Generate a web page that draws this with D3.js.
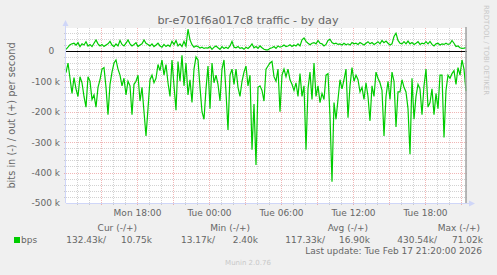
<!DOCTYPE html>
<html>
<head>
<meta charset="utf-8">
<script src="https://cdn.jsdelivr.net/npm/d3@7"></script>
<style>
  body { margin: 0; background: #f0f0f0; }
  svg { display: block; font-family: "DejaVu Sans", sans-serif; }
  text { fill: #666; }
</style>
</head>
<body>
<div id="chart"></div>
<script>
// Munin style "by day" traffic graph, 5 min steps read at 10 min resolution

const W = 497, H = 275;
const plot = {left: 66, right: 466, top: 28, bottom: 203};

const title = "br-e701f6a017c8 traffic - by day";
const yTitle = "bits in (-) / out (+) per second";
const startTime = Date.UTC(2026, 1, 16, 12, 5);
const endTime = Date.UTC(2026, 1, 17, 21, 25);
const stepMinutes = 10;

// values in k bits/s, "in" is drawn below zero
const bpsIn = [
  72, 40, 90, 140, 88, 125, 150, 85, 105, 150, 185, 85, 100, 160, 145, 185, 120,
  95, 60, 55, 120, 210, 110, 70, 40, 30, 60, 80, 115, 90, 145, 100, 115, 210, 110, 100, 80,
  165, 120, 200, 280, 190, 95, 80, 105, 90, 45, 65, 30, 80, 45, 105,
  150, 30, 115, 195, 35, 100, 15, 115, 40, 145, 95, 170, 60, 20, 30, 120, 200, 225, 125, 50,
  190, 40, 105, 80, 110, 165, 60, 30, 135, 260, 80, 60, 110, 60, 120, 150, 100, 70, 50, 115,
  80, 325, 175, 375, 120, 115, 130, 165, 60, 50,
  40, 35, 85, 100, 60, 200, 80, 60, 85, 60, 95, 110, 130, 105, 150, 75, 150, 115, 325, 125,
  70, 160, 40, 150, 115, 170, 140, 160, 80, 75, 215, 430, 170, 225, 160, 95, 125, 95, 60, 220,
  115, 55, 100, 80, 95, 135, 120, 160, 105, 150, 230, 115, 150, 70, 90,
  105, 130, 280, 150, 100, 160, 70, 100, 250, 135, 135, 95, 120, 135, 190, 340, 90, 225, 150, 110,
  125, 210, 115, 60, 185, 170, 125, 210, 140, 190, 80, 80, 285, 130, 80, 90, 75, 65, 110, 55,
  80, 30, 60, 132.43
];
const bpsOut = [
  5, 12, 20, 23, 25, 19, 27, 14, 23, 19, 30,
  16, 21, 14, 25, 36, 23, 16, 21, 14, 19,
  23, 31, 19, 14, 23, 16, 34, 21, 16, 25,
  36, 23, 16, 21, 27, 14, 19, 23, 36, 25,
  21, 16, 23, 14, 19, 25, 16, 12, 21, 14,
  19, 14, 31, 21, 34, 16, 23, 14, 31, 16,
  71, 36, 20, 12, 16, 14, 9, 12, 8, 10,
  9, 14, 5, 12, 16, 10, 5, 14, 8, 12,
  8, 16, 31, 12, 10, 14, 8, 10, 5, 12,
  8, 14, 23, 10, 14, 8, 16, 10, 5, 3,
  3, 8, 10, 14, 8, 16, 12, 14, 19, 14,
  16, 20, 14, 19, 16, 23, 16, 36, 42, 31,
  25, 20, 25, 27, 23, 34, 25, 23, 16, 21,
  34, 38, 27, 23, 25, 21, 23, 19, 25, 20,
  23, 19, 27, 23, 25, 21, 27, 23, 19, 25,
  30, 23, 27, 21, 25, 30, 23, 34, 27, 32,
  25, 19, 23, 47, 58, 34, 25, 23, 30, 23,
  32, 23, 27, 21, 25, 30, 21, 25, 23, 30,
  23, 31, 21, 16, 23, 25, 19, 23, 21, 25,
  21, 23, 34, 25, 14, 16, 10, 8, 9, 10.75
];

const yDomain = [-500, 75];
const yLabelTicks = [-500, -400, -300, -200, -100, 0];
const xLabelTicks = [
  Date.UTC(2026, 1, 16, 18), Date.UTC(2026, 1, 17, 0), Date.UTC(2026, 1, 17, 6),
  Date.UTC(2026, 1, 17, 12), Date.UTC(2026, 1, 17, 18)
];

const legendName = "bps";
const legendHeaders = ["Cur (-/+)", "Min (-/+)", "Avg (-/+)", "Max (-/+)"];
const legendIn = ["132.43k/", "13.17k/", "117.33k/", "430.54k/"];
const legendOut = ["10.75k", "2.40k", "16.90k", "71.02k"];
const lastUpdate = "Last update: Tue Feb 17 21:20:00 2026";
const version = "Munin 2.0.76";
const watermark = "RRDTOOL / TOBI OETIKER";

const C = {
  green: '#00cc00',
  axis: '#cfd6f8',
  grid: 'rgba(143,143,143,0.4)',
  mgrid: 'rgba(222,80,80,0.42)',
  faint: '#c8c8c8'
};

const svg = d3.select('#chart').append('svg')
  .attr('width', W).attr('height', H);

svg.append('rect').attr('width', W).attr('height', H).attr('fill', '#f0f0f0');

const x = d3.scaleUtc().domain([startTime, endTime]).range([plot.left, plot.right]);
const y = d3.scaleLinear().domain(yDomain).range([plot.bottom, plot.top]);
const px = v => Math.round(v) + 0.5;

// canvas
svg.append('rect')
  .attr('x', plot.left).attr('y', plot.top)
  .attr('width', plot.right - plot.left).attr('height', plot.bottom - plot.top)
  .attr('fill', '#fff');

const grid = svg.append('g').attr('shape-rendering', 'crispEdges');

// horizontal grid, 20k minor / 100k major
d3.range(yDomain[0] + 20, yDomain[1], 20).forEach(v => {
  if (v === 0) return;
  const major = v % 100 === 0;
  grid.append('line')
    .attr('x1', plot.left - 2).attr('x2', plot.right + 2)
    .attr('y1', px(y(v))).attr('y2', px(y(v)))
    .attr('stroke', major ? C.mgrid : C.grid)
    .attr('stroke-dasharray', '1,1');
});

// vertical grid, hourly minor / 3 hour major
d3.utcHour.every(1).range(new Date(startTime), new Date(endTime)).forEach(t => {
  const major = t.getUTCHours() % 3 === 0;
  grid.append('line')
    .attr('x1', px(x(t))).attr('x2', px(x(t)))
    .attr('y1', plot.top).attr('y2', plot.bottom + 2)
    .attr('stroke', major ? C.mgrid : C.grid)
    .attr('stroke-dasharray', '1,1');
});

// series
const time = i => startTime + i * stepMinutes * 60000;
const line = d3.line().x((d, i) => x(time(i)));

svg.append('path')
  .datum(bpsIn)
  .attr('d', line.y(d => y(-d)))
  .attr('fill', 'none').attr('stroke', C.green).attr('stroke-width', 1.2);

svg.append('path')
  .datum(bpsOut)
  .attr('d', line.y(d => y(d)))
  .attr('fill', 'none').attr('stroke', C.green).attr('stroke-width', 1.2);

// zero rule
svg.append('line')
  .attr('x1', plot.left).attr('x2', plot.right + 1)
  .attr('y1', px(y(0))).attr('y2', px(y(0)))
  .attr('stroke', '#000').attr('stroke-width', 1.2);

// right edge
svg.append('line')
  .attr('x1', plot.right).attr('x2', plot.right)
  .attr('y1', plot.top - 1).attr('y2', plot.bottom)
  .attr('stroke', '#a0a0a0').attr('stroke-width', 1.5);

// axes with arrows
const axes = svg.append('g').attr('shape-rendering', 'crispEdges');
axes.append('line')
  .attr('x1', plot.left - 0.5).attr('x2', plot.left - 0.5)
  .attr('y1', plot.bottom).attr('y2', plot.top - 4)
  .attr('stroke', C.axis);
axes.append('line')
  .attr('x1', plot.left).attr('x2', plot.right + 4)
  .attr('y1', plot.bottom + 0.5).attr('y2', plot.bottom + 0.5)
  .attr('stroke', C.axis);
svg.append('path')
  .attr('d', `M${plot.left - 3.5},${plot.top - 2}L${plot.left - 0.5},${plot.top - 8}L${plot.left + 2.5},${plot.top - 2}Z`)
  .attr('fill', C.axis);
svg.append('path')
  .attr('d', `M${plot.right + 3},${plot.bottom - 2.5}L${plot.right + 9},${plot.bottom + 0.5}L${plot.right + 3},${plot.bottom + 3.5}Z`)
  .attr('fill', C.axis);

// axis labels
const yAxis = d3.axisLeft(y)
  .tickValues(yLabelTicks)
  .tickSize(0).tickPadding(6)
  .tickFormat(v => v === 0 ? '0\u00a0\u00a0' : `${v} k`);
svg.append('g')
  .attr('transform', `translate(${plot.left},0)`)
  .call(yAxis)
  .call(g => g.select('.domain').remove())
  .selectAll('text')
  .attr('font-size', 9).attr('font-family', '"DejaVu Sans", sans-serif')
  .style('white-space', 'pre');

const xAxis = d3.axisBottom(x)
  .tickValues(xLabelTicks.map(t => new Date(t)))
  .tickSize(0).tickPadding(7)
  .tickFormat(d3.utcFormat('%a %H:%M'));
svg.append('g')
  .attr('transform', `translate(0,${plot.bottom})`)
  .call(xAxis)
  .call(g => g.select('.domain').remove())
  .selectAll('text')
  .attr('font-size', 9).attr('font-family', '"DejaVu Sans", sans-serif');

svg.selectAll('.tick text').attr('fill', '#666');

// titles
svg.append('text')
  .attr('x', 248).attr('y', 24)
  .attr('text-anchor', 'middle').attr('font-size', 11.2)
  .text(title);

svg.append('text')
  .attr('transform', `translate(15,${(plot.top + plot.bottom) / 2}) rotate(-90)`)
  .attr('text-anchor', 'middle').attr('font-size', 9.8)
  .text(yTitle);

svg.append('text')
  .attr('transform', 'translate(484,5) rotate(90)')
  .attr('font-size', 7).style('fill', C.faint)
  .text(watermark);

// legend
const legend = svg.append('g').attr('font-size', 9);
const headerEnds = [137, 250, 368, 480];
const inEnds = [106, 215, 325, 437];
const outEnds = [152, 258, 370, 483];

legend.append('rect')
  .attr('x', 14).attr('y', 237).attr('width', 6).attr('height', 6)
  .attr('fill', C.green);
legend.append('text').attr('x', 21).attr('y', 243).text(legendName);

legendHeaders.forEach((h, i) => {
  legend.append('text').attr('x', headerEnds[i]).attr('y', 231)
    .attr('text-anchor', 'end').text(h);
  legend.append('text').attr('x', inEnds[i]).attr('y', 243)
    .attr('text-anchor', 'end').text(legendIn[i]);
  legend.append('text').attr('x', outEnds[i]).attr('y', 243)
    .attr('text-anchor', 'end').text(legendOut[i]);
});

legend.append('text').attr('x', 482).attr('y', 254)
  .attr('text-anchor', 'end').text(lastUpdate);

svg.append('text')
  .attr('x', 248).attr('y', 265)
  .attr('text-anchor', 'middle').attr('font-size', 7)
  .style('fill', C.faint)
  .text(version);
</script>
</body>
</html>
